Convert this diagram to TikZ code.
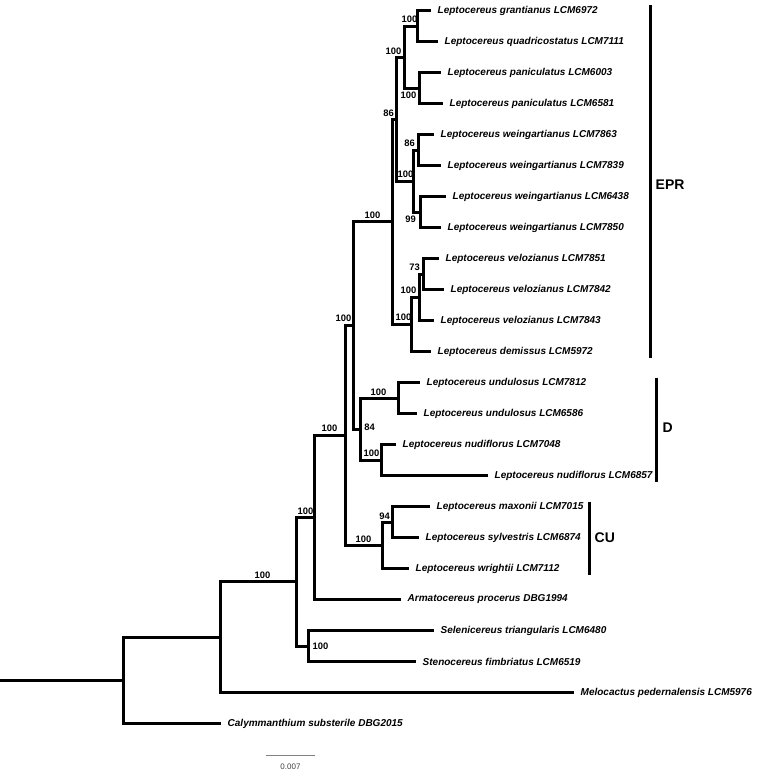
\documentclass[tikz,border=0pt]{standalone}
\usepackage{fontspec}
\setmainfont{Liberation Sans}
\usepackage{tikz}
\usetikzlibrary{positioning}
\tikzset{
	branch/.style={line width=3pt},
	tiplabel/.style={anchor=west, inner xsep=7pt, inner ysep=0pt, font=\fontsize{10}{12}\selectfont\bfseries\itshape}
}
\tikzset{
	supp/.style={inner sep=0pt, font=\fontsize{9.4}{11}\selectfont\bfseries},
	cladebar/.style={line width=2.6pt},
	cladetext/.style={anchor=west, inner sep=0pt, font=\fontsize{14}{16}\selectfont\bfseries}
}

\begin{document}
\begin{tikzpicture}[x=1pt,y=-1pt]
      \useasboundingbox (-0.5,-0.5) rectangle (755.5,772.5);

      % tips (node west = end of the branch)
      \node[tiplabel] (tip1) at (430,10) {Leptocereus grantianus LCM6972};
      \node[tiplabel] (tip2) at (437,41) {Leptocereus quadricostatus LCM7111};
      \node[tiplabel] (tip3) at (440,72) {Leptocereus paniculatus LCM6003};
      \node[tiplabel] (tip4) at (442,103) {Leptocereus paniculatus LCM6581};
      \node[tiplabel] (tip5) at (433,134) {Leptocereus weingartianus LCM7863};
      \node[tiplabel] (tip6) at (440,165) {Leptocereus weingartianus LCM7839};
      \node[tiplabel] (tip7) at (445,196) {Leptocereus weingartianus LCM6438};
      \node[tiplabel] (tip8) at (440,227) {Leptocereus weingartianus LCM7850};
      \node[tiplabel] (tip9) at (438,258) {Leptocereus velozianus LCM7851};
      \node[tiplabel] (tip10) at (443,289) {Leptocereus velozianus LCM7842};
      \node[tiplabel] (tip11) at (433,320) {Leptocereus velozianus LCM7843};
      \node[tiplabel] (tip12) at (430,351) {Leptocereus demissus LCM5972};
      \node[tiplabel] (tip13) at (419,382) {Leptocereus undulosus LCM7812};
      \node[tiplabel] (tip14) at (416,413) {Leptocereus undulosus LCM6586};
      \node[tiplabel] (tip15) at (395,444) {Leptocereus nudiflorus LCM7048};
      \node[tiplabel] (tip16) at (487,475) {Leptocereus nudiflorus LCM6857};
      \node[tiplabel] (tip17) at (429,506) {Leptocereus maxonii LCM7015};
      \node[tiplabel] (tip18) at (418,537) {Leptocereus sylvestris LCM6874};
      \node[tiplabel] (tip19) at (408,568) {Leptocereus wrightii LCM7112};
      \node[tiplabel] (tip20) at (400,599) {Armatocereus procerus DBG1994};
      \node[tiplabel] (tip21) at (433,630) {Selenicereus triangularis LCM6480};
      \node[tiplabel] (tip22) at (415,661) {Stenocereus fimbriatus LCM6519};
      \node[tiplabel] (tip23) at (573,692) {Melocactus pedernalensis LCM5976};
      \node[tiplabel] (tip24) at (220,723) {Calymmanthium substerile DBG2015};

      % internal nodes
      \coordinate (gran) at (417,26);
      \coordinate (pan) at (419,88);
      \coordinate (grp) at (404,57);
      \coordinate (wa) at (418,150);
      \coordinate (wb) at (420,212);
      \coordinate (weing) at (413,181);
      \coordinate (n86) at (396,119);
      \coordinate (va) at (423,274);
      \coordinate (vb) at (419,297);
      \coordinate (vc) at (411,324);
      \coordinate (epr) at (392,221);
      \coordinate (und) at (398,398);
      \coordinate (nud) at (381,460);
      \coordinate (dcl) at (360,429);
      \coordinate (fn) at (353,325);
      \coordinate (cua) at (392,522);
      \coordinate (cu) at (382,545);
      \coordinate (en) at (345,435);
      \coordinate (dn) at (314,517);
      \coordinate (sel) at (308,646);
      \coordinate (bn) at (296,581);
      \coordinate (an) at (220,637);
      \coordinate (root) at (123,680);
      \coordinate (base) at (0,680);

      % branches, each parent to its two children
      \draw[branch] (tip1.west) -| (gran) |- (tip2.west);
      \draw[branch] (tip3.west) -| (pan) |- (tip4.west);
      \draw[branch] (gran) -| (grp) |- (pan);
      \draw[branch] (tip5.west) -| (wa) |- (tip6.west);
      \draw[branch] (tip7.west) -| (wb) |- (tip8.west);
      \draw[branch] (wa) -| (weing) |- (wb);
      \draw[branch] (grp) -| (n86) |- (weing);
      \draw[branch] (tip9.west) -| (va) |- (tip10.west);
      \draw[branch] (va) -| (vb) |- (tip11.west);
      \draw[branch] (vb) -| (vc) |- (tip12.west);
      \draw[branch] (n86) -| (epr) |- (vc);
      \draw[branch] (tip13.west) -| (und) |- (tip14.west);
      \draw[branch] (tip15.west) -| (nud) |- (tip16.west);
      \draw[branch] (und) -| (dcl) |- (nud);
      \draw[branch] (epr) -| (fn) |- (dcl);
      \draw[branch] (tip17.west) -| (cua) |- (tip18.west);
      \draw[branch] (cua) -| (cu) |- (tip19.west);
      \draw[branch] (fn) -| (en) |- (cu);
      \draw[branch] (en) -| (dn) |- (tip20.west);
      \draw[branch] (tip21.west) -| (sel) |- (tip22.west);
      \draw[branch] (dn) -| (bn) |- (sel);
      \draw[branch] (bn) -| (an) |- (tip23.west);
      \draw[branch] (an) -| (root) |- (tip24.west);
      \draw[branch] (base) -- (root);

      % support values
      \node[supp] (s-gran) at (409,19) {100};
      \node[supp] (s-pan) at (408,95) {100};
      \node[supp] (s-grp) at (393,51) {100};
      \node[supp] (s-n86) at (388,113) {86};
      \node[supp] (s-weing) at (405,174) {100};
      \node[supp] (s-wa) at (409,143) {86};
      \node[supp] (s-wb) at (410,219) {99};
      \node[supp] (s-va) at (414,267) {73};
      \node[supp] (s-vb) at (408,290) {100};
      \node[supp] (s-vc) at (403,317) {100};
      \node[supp] (s-epr) at (372,215) {100};
      \node[supp] (s-fn) at (343,318) {100};
      \node[supp] (s-und) at (378,392) {100};
      \node[supp] (s-nud) at (371,453) {100};
      \node[supp] (s-dcl) at (369,427) {84};
      \node[supp] (s-cua) at (384,516) {94};
      \node[supp] (s-cu) at (363,539) {100};
      \node[supp] (s-en) at (329,428) {100};
      \node[supp] (s-dn) at (305,511) {100};
      \node[supp] (s-bn) at (262,575) {100};
      \node[supp] (s-sel) at (320,646) {100};

      % clade bars
      \draw[cladebar] (650,5) -- (650,357);
      \node[cladetext] (eprlab) at (655,184) {EPR};
      \draw[cladebar] (656,377) -- (656,481);
      \node[cladetext] (dlab) at (662,427) {D};
      \draw[cladebar] (589,501) -- (589,574);
      \node[cladetext] (culab) at (594,537) {CU};

      % scale bar
      \draw[line width=1.2pt, gray] (265,755) -- (314,755);
      \node[inner sep=0pt, font=\fontsize{8}{9}\selectfont, text=black!75] (scale) at (290,766) {0.007};
    \end{tikzpicture}
\end{document}
